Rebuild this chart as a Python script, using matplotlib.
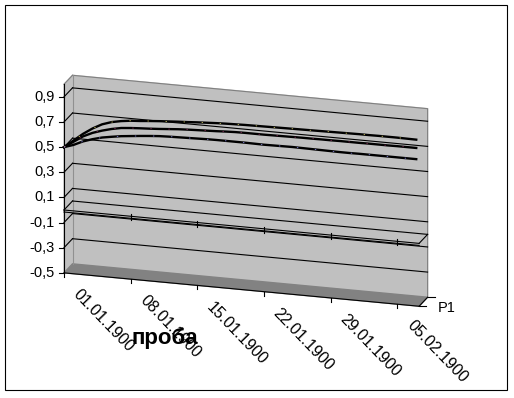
import numpy as np
import matplotlib
matplotlib.use("Agg")
import matplotlib.pyplot as plt
from matplotlib.patches import Rectangle
from matplotlib.transforms import Affine2D

plt.rcParams['font.family'] = ['Liberation Sans', 'DejaVu Sans']

# daily values, 01.01.1900 .. 07.02.1900
days = np.arange(38)
top = [0.50, 0.56, 0.62, 0.67, 0.71, 0.735, 0.75, 0.76, 0.765, 0.772,
       0.778, 0.783, 0.788, 0.792, 0.797, 0.801, 0.805, 0.808, 0.81, 0.812,
       0.813, 0.814, 0.815, 0.816, 0.817, 0.818, 0.819, 0.82, 0.821, 0.822,
       0.823, 0.824, 0.824, 0.825, 0.825, 0.825, 0.824, 0.823]
mid = [0.50, 0.55, 0.60, 0.635, 0.66, 0.68, 0.695, 0.702, 0.707, 0.711,
       0.716, 0.722, 0.728, 0.732, 0.735, 0.738, 0.741, 0.745, 0.748, 0.749,
       0.749, 0.749, 0.75, 0.751, 0.752, 0.753, 0.753, 0.754, 0.754, 0.755,
       0.755, 0.755, 0.756, 0.756, 0.756, 0.757, 0.757, 0.757]
low = [0.50, 0.525, 0.56, 0.585, 0.605, 0.618, 0.63, 0.638, 0.646, 0.653,
       0.659, 0.662, 0.664, 0.666, 0.668, 0.67, 0.671, 0.671, 0.671, 0.671,
       0.67, 0.669, 0.67, 0.671, 0.672, 0.671, 0.67, 0.669, 0.668, 0.667,
       0.667, 0.668, 0.668, 0.668, 0.668, 0.668, 0.668, 0.668]

value_ticks = [-0.5, -0.3, -0.1, 0.1, 0.3, 0.5, 0.7, 0.9]
value_labels = ["-0,5", "-0,3", "-0,1", "0,1", "0,3", "0,5", "0,7", "0,9"]
date_days = [0, 7, 14, 21, 28, 35]
date_labels = ["01.01.1900", "08.01.1900", "15.01.1900",
               "22.01.1900", "29.01.1900", "05.02.1900"]
series_name = "P1"
title = "проба"

vmin, vmax = -0.5, 1.0
dmax = 37.3

fig = plt.figure(figsize=(5.14, 3.98), dpi=100)
ax = fig.add_axes([0, 0, 1, 1])
ax.set_xlim(0, 514)
ax.set_ylim(398, 0)
ax.axis('off')

# oblique 3d look: front plane and back wall, (day, value) -> pixels
F = Affine2D(np.array([[9.52, 0, 64], [0.895, -125.7, 210], [0, 0, 1]]))
B = F + Affine2D().translate(8.5, -9)
tf = F + ax.transData
tb = B + ax.transData

ax.add_patch(Rectangle((5, 5), 502, 385, fill=False, ec='k', lw=0.8))

# walls and floor
wall = B.transform([[0, vmin], [dmax, vmin], [dmax, vmax], [0, vmax]])
ax.fill(wall[:, 0], wall[:, 1], color='#c0c0c0', zorder=1)
side = np.vstack([F.transform([[0, vmin], [0, vmax]]),
                  B.transform([[0, vmax], [0, vmin]])])
ax.fill(side[:, 0], side[:, 1], color='#c0c0c0', zorder=1)
floor = np.vstack([F.transform([[0, vmin], [dmax, vmin]]),
                   B.transform([[dmax, vmin], [0, vmin]])])
ax.fill(floor[:, 0], floor[:, 1], color='#828282', zorder=1)

ax.plot([0, dmax, dmax], [vmax, vmax, vmin], transform=tb, color='#808080', lw=0.8, zorder=2)
ax.plot([0, 0], [vmin, vmax], transform=tb, color='#909090', lw=0.8, zorder=2)
edge = np.vstack([F.transform([0, vmax]), B.transform([0, vmax])])
ax.plot(edge[:, 0], edge[:, 1], color='#808080', lw=0.8, zorder=2)

# gridlines
for v in value_ticks[1:]:
    ax.plot([0, dmax], [v, v], transform=tb, color='k', lw=0.8, zorder=2)
    g = np.vstack([F.transform([0, v]), B.transform([0, v])])
    ax.plot(g[:, 0], g[:, 1], color='k', lw=0.8, zorder=2)

# value axis
ax.plot([0, 0], [vmin, vmax], transform=tf, color='k', lw=0.8, zorder=3)
for v, lab in zip(value_ticks, value_labels):
    x, y = F.transform([0, v])
    ax.plot([x - 5, x], [y, y], color='k', lw=0.8, zorder=3)
    ax.text(x - 9, y, lab, ha='right', va='center', fontsize=10.5)

# category axis on the floor
ax.plot([0, dmax], [vmin, vmin], transform=tf, color='k', lw=0.8, zorder=3)
for d, lab in zip(date_days, date_labels):
    x, y = F.transform([d, vmin])
    ax.plot([x, x], [y, y + 4], color='k', lw=0.8, zorder=3)
    ax.text(x + 12, y + 19, lab, rotation=-46, rotation_mode='anchor',
            ha='left', va='center', fontsize=11.5)

# depth axis
dep = np.vstack([F.transform([dmax, vmin]), B.transform([dmax, vmin])])
ax.plot(dep[:, 0], dep[:, 1], color='k', lw=0.8, zorder=3)
for x, y in dep:
    ax.plot([x, x + 7], [y, y], color='k', lw=0.8, zorder=3)
ax.text(dep[:, 0].mean() + 14, dep[:, 1].mean() + 6, series_name,
        ha='left', va='center', fontsize=10.5)

# plane at value 0
ax.plot([0, dmax], [0, 0], transform=tb, color='k', lw=0.8, zorder=3)
ax.plot([0, dmax], [0, 0], transform=tf, color='k', lw=0.8, zorder=3)
ax.plot([0, dmax], [-0.016, -0.016], transform=tf, color='k', lw=0.8, zorder=3)
for d in [0, dmax]:
    s = np.vstack([F.transform([d, 0]), B.transform([d, 0])])
    ax.plot(s[:, 0], s[:, 1], color='k', lw=0.8, zorder=3)
for d in date_days[1:]:
    x, y = F.transform([d, 0])
    ax.plot([x, x], [y - 2, y + 4], color='k', lw=0.8, zorder=3)

# series ribbons, black edges with a few specks of fill colour
for vals, c in [(top, '#e8e070'), (mid, '#993366'), (low, '#9999ff')]:
    ax.plot(days, vals, transform=tf, color='k', lw=1.7, zorder=5)
    ax.plot(days, vals, transform=tf, color=c, lw=0.5, dashes=(2, 24), zorder=6)

ax.text(165, 338, title, ha='center', va='center', fontsize=16, fontweight='bold')

fig.savefig("out.png", dpi=100)
